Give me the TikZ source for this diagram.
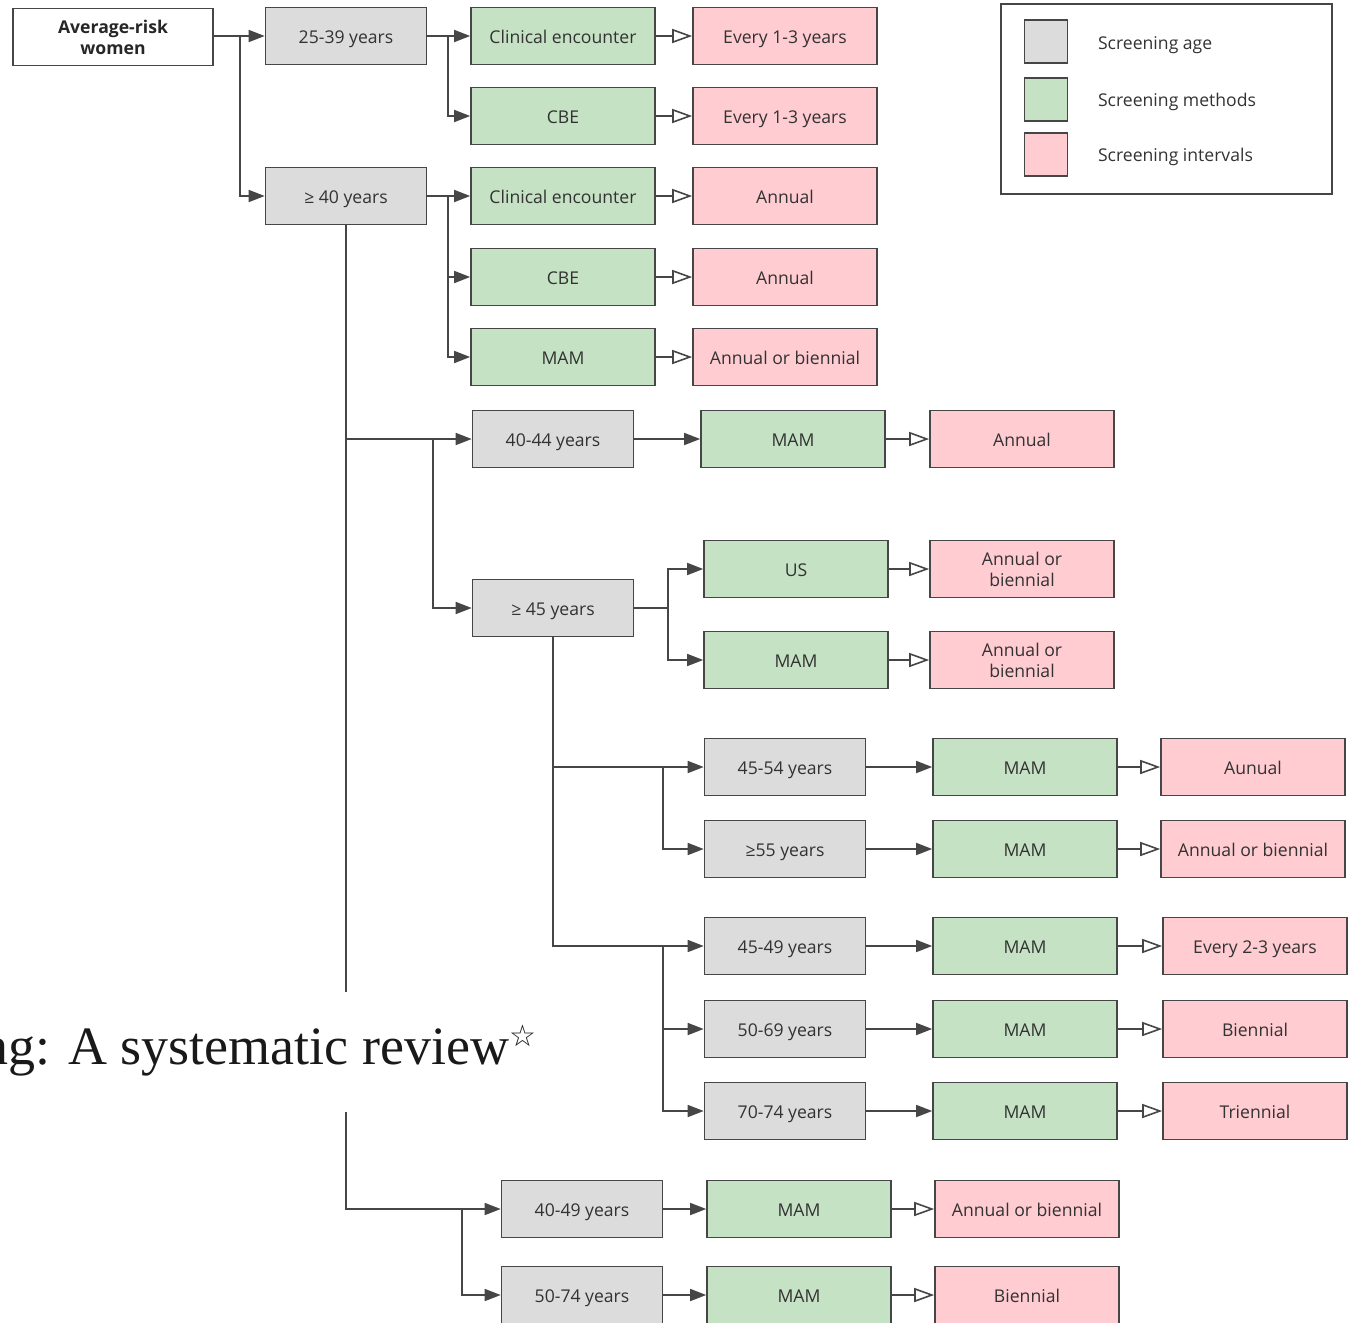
\documentclass[tikz,border=0pt]{standalone}
\usepackage{fontspec}
\setmainfont{Open Sans}
\newfontfamily\ttlfont{Liberation Serif}
\newfontfamily\djvfont{DejaVu Sans}
\usetikzlibrary{arrows.meta}
\definecolor{agefill}{RGB}{220,220,220}
\definecolor{methfill}{RGB}{198,226,196}
\definecolor{intfill}{RGB}{255,204,210}
\definecolor{edgecol}{RGB}{70,70,70}
\definecolor{txtcol}{RGB}{50,50,50}
\tikzset{
  box/.style={draw=edgecol, line width=0.8pt, minimum height=28.5pt, inner sep=1pt,
    font=\fontsize{8.8}{10.5}\selectfont, text=txtcol, align=center},
  oneline/.style={text height=8.2pt, text depth=1.2pt},
  agebox/.style={box, oneline, fill=agefill, minimum width=80.5pt},
  methbox/.style={box, oneline, fill=methfill, minimum width=92pt},
  intbox/.style={box, oneline, fill=intfill, minimum width=92pt},
  intboxtwo/.style={box, fill=intfill, minimum width=92pt},
  arr/.style={draw=edgecol, line width=0.8pt, -{Triangle[length=8pt,width=6pt]}},
  oarr/.style={draw=edgecol, line width=0.8pt, -{Triangle[open,length=10pt,width=7pt]}},
  ln/.style={draw=edgecol, line width=0.8pt},
  legtext/.style={anchor=west, oneline, font=\fontsize{8.8}{10.5}\selectfont, text=txtcol},
  swatch/.style={draw=edgecol, line width=0.8pt, minimum size=21.5pt, inner sep=0pt}
}
\begin{document}
\begin{tikzpicture}[x=0.5pt,y=-0.5pt]
\useasboundingbox (0,0) rectangle (1350,1323);

% root
\node[box, fill=white, minimum width=100pt, text=black!85,
  font=\bfseries\fontsize{8.8}{10.5}\selectfont] (avg) at (113,37) {Average-risk\\women};

% ages
\node[agebox] (a2539) at (346,36) {25-39 years};
\node[agebox] (a40) at (346,196) {≥ 40 years};
\node[agebox] (a4044) at (553,439) {40-44 years};
\node[agebox] (a45) at (553,608) {≥ 45 years};
\node[agebox] (a4554) at (785,767) {45-54 years};
\node[agebox] (a55) at (785,849) {≥55 years};
\node[agebox] (a4549) at (785,946) {45-49 years};
\node[agebox] (a5069) at (785,1029) {50-69 years};
\node[agebox] (a7074) at (785,1111) {70-74 years};
\node[agebox] (a4049) at (582,1209) {40-49 years};
\node[agebox] (a5074) at (582,1295) {50-74 years};

% methods
\node[methbox] (m1) at (563,36) {Clinical encounter};
\node[methbox] (m2) at (563,116) {CBE};
\node[methbox] (m3) at (563,196) {Clinical encounter};
\node[methbox] (m4) at (563,277) {CBE};
\node[methbox] (m5) at (563,357) {MAM};
\node[methbox] (m6) at (793,439) {MAM};
\node[methbox] (m7) at (796,569) {US};
\node[methbox] (m8) at (796,660) {MAM};
\node[methbox] (m9) at (1025,767) {MAM};
\node[methbox] (m10) at (1025,849) {MAM};
\node[methbox] (m11) at (1025,946) {MAM};
\node[methbox] (m12) at (1025,1029) {MAM};
\node[methbox] (m13) at (1025,1111) {MAM};
\node[methbox] (m14) at (799,1209) {MAM};
\node[methbox] (m15) at (799,1295) {MAM};

% intervals
\node[intbox] (i1) at (785,36) {Every 1-3 years};
\node[intbox] (i2) at (785,116) {Every 1-3 years};
\node[intbox] (i3) at (785,196) {Annual};
\node[intbox] (i4) at (785,277) {Annual};
\node[intbox] (i5) at (785,357) {Annual or biennial};
\node[intbox] (i6) at (1022,439) {Annual};
\node[intboxtwo] (i7) at (1022,569) {Annual or\\biennial};
\node[intboxtwo] (i8) at (1022,660) {Annual or\\biennial};
\node[intbox] (i9) at (1253,767) {Aunual};
\node[intbox] (i10) at (1253,849) {Annual or biennial};
\node[intbox] (i11) at (1255,946) {Every 2-3 years};
\node[intbox] (i12) at (1255,1029) {Biennial};
\node[intbox] (i13) at (1255,1111) {Triennial};
\node[intbox] (i14) at (1027,1209) {Annual or biennial};
\node[intbox] (i15) at (1027,1295) {Biennial};

% junction coordinates
\coordinate (j1) at (240,36);
\coordinate (j2) at (448,36);
\coordinate (j3) at (448,196);
\coordinate (j4) at (433,439);
\coordinate (j5) at (462,1209);
\coordinate (j6) at (668,608);
\coordinate (j7) at (663,767);
\coordinate (j8) at (663,946);
\coordinate (gT) at (346,992);
\coordinate (gB) at (346,1112);

% connectors
\draw[arr] (avg.east |- a2539) -- (a2539);
\draw[arr] (j1) |- (a40);
\draw[arr] (a2539) -- (m1);
\draw[arr] (j2) |- (m2);
\draw[arr] (a40) -- (m3);
\draw[arr] (j3) |- (m4);
\draw[arr] (j3) |- (m5);

\draw[ln] (a40.south) -- (gT);
\draw[arr] (a40.south) |- (a4044);
\draw[arr] (j4) |- (a45);
\draw[arr] (gB) |- (a4049);
\draw[arr] (j5) |- (a5074);

\draw[arr] (a4044) -- (m6);
\draw[ln] (a45) -- (j6);
\draw[arr] (j6) |- (m7);
\draw[arr] (j6) |- (m8);

\draw[arr] (a45.south) |- (a4554);
\draw[arr] (a45.south) |- (a4549);
\draw[arr] (j7) |- (a55);
\draw[arr] (j8) |- (a5069);
\draw[arr] (j8) |- (a7074);

\draw[arr] (a4554) -- (m9);
\draw[arr] (a55) -- (m10);
\draw[arr] (a4549) -- (m11);
\draw[arr] (a5069) -- (m12);
\draw[arr] (a7074) -- (m13);
\draw[arr] (a4049) -- (m14);
\draw[arr] (a5074) -- (m15);

\foreach \m/\i in {m1/i1,m2/i2,m3/i3,m4/i4,m5/i5,m6/i6,m7/i7,m8/i8,m9/i9,m10/i10,m11/i11,m12/i12,m13/i13,m14/i14,m15/i15}
  \draw[oarr] (\m) -- (\i);

% legend
\node[draw=edgecol, line width=0.8pt, minimum width=165.5pt, minimum height=95pt, inner sep=0pt] (leg) at (1166.5,99) {};
\node[swatch, fill=agefill] (s1) at (1046,41.5) {};
\node[swatch, fill=methfill] (s2) at (1046,99.5) {};
\node[swatch, fill=intfill] (s3) at (1046,154.5) {};
\node[legtext] (l1) at (1091,42) {Screening age};
\node[legtext] (l2) at (1091,99) {Screening methods};
\node[legtext] (l3) at (1091,154) {Screening intervals};

% overlaid title fragment
\node[anchor=base west, inner sep=0pt, text=black!90,
  font=\ttlfont\fontsize{27}{30}\selectfont] (title) at (-19,1064)
  {ng: A systematic review\raisebox{9pt}{\djvfont\fontsize{15}{15}\selectfont ☆}};
\end{tikzpicture}
\end{document}
